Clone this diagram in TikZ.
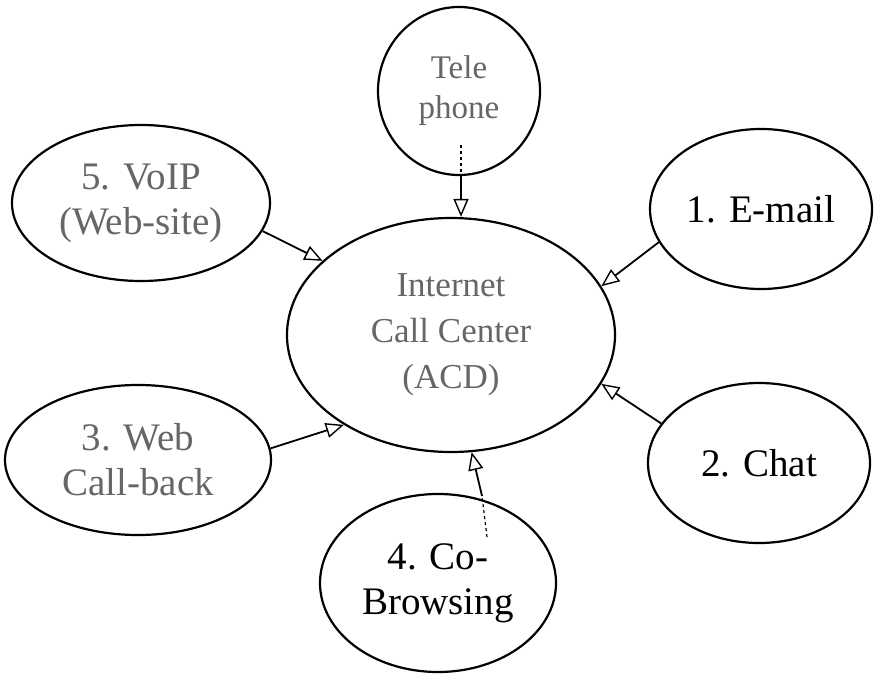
\documentclass[tikz,border=0pt]{standalone}
\usepackage{fontspec}
\setmainfont{Liberation Serif}
\usetikzlibrary{shapes.geometric,arrows.meta}
\begin{document}
\begin{tikzpicture}[x=1pt,y=-1pt,
  bubble/.style={draw, ellipse, line width=2.2pt, inner sep=0pt, align=center},
  conn/.style={line width=1.8pt, -{Triangle[open,length=18pt,width=15pt,line width=1.4pt]}},
  faded/.style={text=black!60},
  bigtxt/.style={font=\fontsize{39}{45}\selectfont},
  midtxt/.style={font=\fontsize{35}{46}\selectfont},
  smalltxt/.style={font=\fontsize{33}{40}\selectfont}]
\useasboundingbox (0,0) rectangle (882,679);
\node[bubble, faded, midtxt, minimum width=328pt, minimum height=234pt] (acd) at (451,335) {Internet\\Call Center\\(ACD)};
\node[bubble, faded, smalltxt, minimum width=162pt, minimum height=168pt] (tel) at (459,91) {Tele\\phone};
\node[bubble, faded, bigtxt, minimum width=258pt, minimum height=156pt] (voip) at (141,203) {5. VoIP\\(Web-site)};
\node[bubble, bigtxt, minimum width=222pt, minimum height=160pt] (mail) at (761,209) {1. E-mail};
\node[bubble, bigtxt, minimum width=222pt, minimum height=160pt] (chat) at (759,463) {2. Chat};
\node[bubble, faded, bigtxt, minimum width=266pt, minimum height=150pt] (web) at (138,460) {3. Web\\Call-back};
\node[bubble, bigtxt, minimum width=236pt, minimum height=178pt] (cob) at (438,583) {4. Co-\\Browsing};
% telephone connector
\coordinate (telin) at (461,145);
\coordinate (telfoot) at (461,175);
\draw[line width=1.2pt, dashed] (telin) -- (telfoot);
\draw[conn] (telfoot) -- (telfoot |- acd.north);
% co-browsing connector
\coordinate (cobin) at (487,537);
\coordinate (cobtop) at (482,496);
\draw[line width=1.2pt, dashed] (cobin) -- (cobtop);
\draw[conn] (cobtop) -- (acd.-80);
% other connectors
\draw[conn] (voip.-13) -- (acd.150);
\draw[conn] (mail.198) -- (acd.18);
\draw[conn] (chat.158) -- (acd.-18);
\draw[conn] (web.5) -- (acd.-140);
\end{tikzpicture}
\end{document}
